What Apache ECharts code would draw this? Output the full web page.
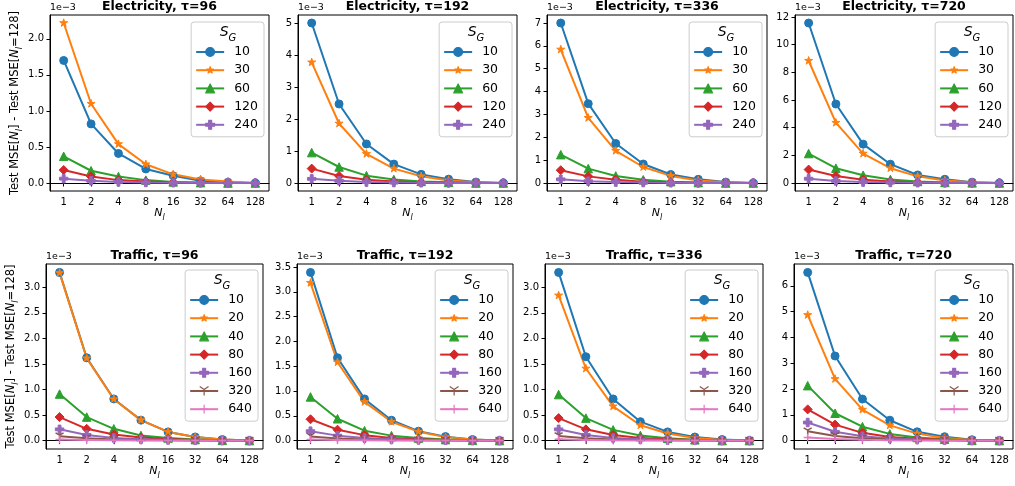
<!DOCTYPE html>
<html>
<head>
<meta charset="utf-8">
<script src="https://cdn.jsdelivr.net/npm/echarts@6/dist/echarts.min.js"></script>
<style>
html, body { margin: 0; padding: 0; background: #fff; }
#main { width: 1015px; height: 486px; }
</style>
</head>
<body>
<div id="main"></div>
<script>
// N_l values on the x axis
var xLabels = ['1', '2', '4', '8', '16', '32', '64', '128'];
var elecGroups = ['10', '30', '60', '120', '240'];
var trafGroups = ['10', '20', '40', '80', '160', '320', '640'];

// all values below are in units of 1e-3
var elec96 = [
  [1.70, 0.82, 0.41, 0.195, 0.10, 0.03, 0.01, 0],
  [2.22, 1.10, 0.54, 0.26, 0.12, 0.05, 0.02, 0],
  [0.37, 0.17, 0.09, 0.04, 0.015, 0.005, 0, 0],
  [0.18, 0.09, 0.04, 0.02, 0.01, 0.005, 0, 0],
  [0.06, 0.03, 0.015, 0.008, 0.004, 0.002, 0.001, 0]
];
var elec192 = [
  [5.00, 2.47, 1.22, 0.59, 0.27, 0.12, 0.03, 0],
  [3.77, 1.86, 0.91, 0.45, 0.21, 0.08, 0.02, 0],
  [0.95, 0.50, 0.23, 0.11, 0.05, 0.02, 0, 0],
  [0.45, 0.22, 0.10, 0.05, 0.02, 0.01, 0, 0],
  [0.13, 0.07, 0.03, 0.015, 0.007, 0.003, 0.001, 0]
];
var elec336 = [
  [7.00, 3.47, 1.73, 0.83, 0.37, 0.16, 0.04, 0],
  [5.84, 2.85, 1.41, 0.70, 0.31, 0.11, 0.03, 0],
  [1.24, 0.63, 0.31, 0.14, 0.06, 0.02, 0, 0],
  [0.56, 0.29, 0.14, 0.06, 0.03, 0.01, 0, 0],
  [0.16, 0.08, 0.04, 0.02, 0.01, 0.005, 0, 0]
];
var elec720 = [
  [11.57, 5.71, 2.81, 1.36, 0.58, 0.27, 0.06, 0],
  [8.84, 4.36, 2.13, 1.07, 0.48, 0.18, 0.05, 0],
  [2.13, 1.07, 0.56, 0.25, 0.11, 0.04, 0.01, 0],
  [0.97, 0.51, 0.24, 0.11, 0.05, 0.02, 0, 0],
  [0.31, 0.15, 0.07, 0.04, 0.02, 0.01, 0, 0]
];
var traf96 = [
  [3.29, 1.62, 0.815, 0.40, 0.17, 0.07, 0.02, 0],
  [3.28, 1.61, 0.81, 0.40, 0.17, 0.07, 0.02, 0],
  [0.91, 0.46, 0.23, 0.10, 0.05, 0.02, 0.005, 0],
  [0.46, 0.23, 0.12, 0.06, 0.03, 0.01, 0, 0],
  [0.22, 0.11, 0.05, 0.025, 0.012, 0.005, 0, 0],
  [0.085, 0.045, 0.02, 0.01, 0.005, 0, 0, 0],
  [0.02, 0.01, 0.005, 0, 0, 0, 0, 0]
];
var traf192 = [
  [3.39, 1.67, 0.84, 0.41, 0.19, 0.08, 0.02, 0],
  [3.18, 1.58, 0.78, 0.38, 0.18, 0.07, 0.02, 0],
  [0.88, 0.44, 0.20, 0.10, 0.05, 0.02, 0.005, 0],
  [0.43, 0.22, 0.11, 0.05, 0.025, 0.01, 0, 0],
  [0.19, 0.10, 0.05, 0.025, 0.012, 0.005, 0, 0],
  [0.08, 0.04, 0.02, 0.01, 0.005, 0, 0, 0],
  [0.02, 0.01, 0.005, 0, 0, 0, 0, 0]
];
var traf336 = [
  [3.29, 1.64, 0.815, 0.37, 0.17, 0.07, 0.02, 0],
  [2.84, 1.41, 0.67, 0.30, 0.14, 0.05, 0.01, 0],
  [0.90, 0.44, 0.21, 0.10, 0.045, 0.015, 0, 0],
  [0.44, 0.22, 0.11, 0.05, 0.025, 0.01, 0, 0],
  [0.22, 0.11, 0.05, 0.025, 0.01, 0.005, 0, 0],
  [0.09, 0.045, 0.02, 0.01, 0.005, 0, 0, 0],
  [0.025, 0.012, 0.006, 0.003, 0, 0, 0, 0]
];
var traf720 = [
  [6.52, 3.28, 1.61, 0.79, 0.34, 0.15, 0.03, 0],
  [4.87, 2.39, 1.20, 0.59, 0.27, 0.10, 0.02, 0],
  [2.13, 1.06, 0.54, 0.26, 0.12, 0.05, 0.01, 0],
  [1.21, 0.62, 0.30, 0.14, 0.07, 0.03, 0, 0],
  [0.70, 0.34, 0.17, 0.08, 0.04, 0.015, 0, 0],
  [0.36, 0.18, 0.09, 0.04, 0.02, 0.01, 0, 0],
  [0.12, 0.06, 0.03, 0.015, 0.007, 0.003, 0, 0]
];

// y tick labels per panel
var elec96Ticks = [0, 0.5, 1, 1.5, 2];
var elec192Ticks = [0, 1, 2, 3, 4, 5];
var elec336Ticks = [0, 1, 2, 3, 4, 5, 6, 7];
var elec720Ticks = [0, 2, 4, 6, 8, 10, 12];
var traf96Ticks = [0, 0.5, 1, 1.5, 2, 2.5, 3];
var traf192Ticks = [0, 0.5, 1, 1.5, 2, 2.5, 3, 3.5];
var traf336Ticks = [0, 0.5, 1, 1.5, 2, 2.5, 3];
var traf720Ticks = [0, 1, 2, 3, 4, 5, 6];

var colors = ['#1f77b4', '#ff7f0e', '#2ca02c', '#d62728', '#9467bd', '#8c564b', '#e377c2'];
// the star carries invisible move-to points so it draws smaller than its box, like matplotlib's '*'
var markers = [
  {symbol: 'circle', size: 8, stroke: false},
  {symbol: 'path://M-1.25,-1.25 M1.25,1.25 M0,-1 L0.2245,-0.309 L0.951,-0.309 L0.363,0.118 L0.588,0.809 L0,0.382 L-0.588,0.809 L-0.363,0.118 L-0.951,-0.309 L-0.2245,-0.309 Z', size: 10.5, stroke: false},
  {symbol: 'triangle', size: 8.5, stroke: false},
  {symbol: 'path://M0,-1 L1,0 L0,1 L-1,0 Z', size: 9, stroke: false},
  {symbol: 'path://M-1,-3 L1,-3 L1,-1 L3,-1 L3,1 L1,1 L1,3 L-1,3 L-1,1 L-3,1 L-3,-1 L-1,-1 Z', size: 8.5, stroke: false},
  {symbol: 'path://M0,0 L0,1 M0,0 L-0.866,-0.5 M0,0 L0.866,-0.5', size: 8, stroke: true},
  {symbol: 'path://M-1,0 L1,0 M0,-1 L0,1', size: 8, stroke: true}
];

var panels = [
  {key: 'e96', title: 'Electricity, τ=96', groups: elecGroups, data: elec96, ticks: elec96Ticks},
  {key: 'e192', title: 'Electricity, τ=192', groups: elecGroups, data: elec192, ticks: elec192Ticks},
  {key: 'e336', title: 'Electricity, τ=336', groups: elecGroups, data: elec336, ticks: elec336Ticks},
  {key: 'e720', title: 'Electricity, τ=720', groups: elecGroups, data: elec720, ticks: elec720Ticks},
  {key: 't96', title: 'Traffic, τ=96', groups: trafGroups, data: traf96, ticks: traf96Ticks},
  {key: 't192', title: 'Traffic, τ=192', groups: trafGroups, data: traf192, ticks: traf192Ticks},
  {key: 't336', title: 'Traffic, τ=336', groups: trafGroups, data: traf336, ticks: traf336Ticks},
  {key: 't720', title: 'Traffic, τ=720', groups: trafGroups, data: traf720, ticks: traf720Ticks}
];

// axes boxes: [left, top, right, bottom] in pixels
var boxes = [
  [50, 15, 269, 191], [298, 15, 517, 191], [547, 15, 767, 191], [795, 15, 1013, 191],
  [46, 264, 263, 449], [297, 264, 513, 449], [545, 264, 763, 449], [794, 264, 1013, 449]
];

var W = 1015;
var FONT = 'DejaVu Sans';

var yNameRich = {
  t: {fontSize: 11.5, fontFamily: FONT, color: '#000', padding: [0, 0, 3, 0], verticalAlign: 'bottom'},
  n: {fontSize: 11.5, fontFamily: FONT, fontStyle: 'italic', color: '#000', padding: [0, 0, 3, 0], verticalAlign: 'bottom'},
  l: {fontSize: 8, fontFamily: FONT, fontStyle: 'italic', color: '#000', verticalAlign: 'bottom'}
};
var yNameText = '{t|Test MSE[}{n|N}{l|l}{t|] - Test MSE[}{n|N}{l|l}{t|=128]}';

var grids = [], xAxes = [], yAxes = [], series = [], legends = [], titles = [];

panels.forEach(function(p, pi) {
  var b = boxes[pi];
  grids.push({
    left: b[0], top: b[1], width: b[2] - b[0], height: b[3] - b[1],
    show: true, borderColor: '#000', borderWidth: 1, backgroundColor: 'transparent',
    containLabel: false, outerBoundsMode: 'none'
  });

  xAxes.push({
    type: 'category', gridIndex: pi, data: xLabels, boundaryGap: true,
    axisLine: {show: true, lineStyle: {color: '#000', width: 1}},
    axisTick: {show: true, alignWithLabel: true, length: 3.5, lineStyle: {color: '#000'}},
    axisLabel: {fontSize: 10, color: '#000', fontFamily: FONT, margin: 6, interval: 0},
    splitLine: {show: false},
    name: '{n|N}{l|l}', nameLocation: 'middle', nameGap: 17,
    nameTextStyle: {
      rich: {
        n: {fontSize: 11, fontFamily: FONT, fontStyle: 'italic', color: '#000', padding: [0, 0, 3, 0], verticalAlign: 'bottom'},
        l: {fontSize: 8, fontFamily: FONT, fontStyle: 'italic', color: '#000', verticalAlign: 'bottom'}
      }
    }
  });

  var lo = Infinity, hi = -Infinity;
  p.data.forEach(function(row) {
    row.forEach(function(v) { lo = Math.min(lo, v); hi = Math.max(hi, v); });
  });
  var pad = (hi - lo) * 0.05;
  var dec = p.ticks.some(function(t) { return t % 1 !== 0; }) ? 1 : 0;

  var yAx = {
    type: 'value', gridIndex: pi, min: lo - pad, max: hi + pad,
    axisLine: {show: true, lineStyle: {color: '#000', width: 1}},
    axisTick: {show: true, length: 3.5, lineStyle: {color: '#000'}, customValues: p.ticks},
    axisLabel: {
      fontSize: 10, color: '#000', fontFamily: FONT, margin: 6, customValues: p.ticks,
      formatter: function(v) { return Number(v).toFixed(dec); }
    },
    splitLine: {show: false}
  };
  if (pi === 0 || pi === 4) {
    yAx.name = yNameText;
    yAx.nameLocation = 'middle';
    yAx.nameGap = 23;
    yAx.nameTextStyle = {rich: yNameRich};
  }
  yAxes.push(yAx);

  var names = [];
  p.groups.forEach(function(g, gi) {
    var m = markers[gi];
    var nm = p.key + ':' + g;
    names.push(nm);
    series.push({
      type: 'line', name: nm, xAxisIndex: pi, yAxisIndex: pi,
      data: p.data[gi],
      symbol: m.symbol, symbolSize: m.size, symbolKeepAspect: true, showAllSymbol: true,
      lineStyle: {color: colors[gi], width: 2},
      itemStyle: m.stroke
        ? {color: 'transparent', borderColor: colors[gi], borderWidth: 1.5}
        : {color: colors[gi], borderColor: colors[gi], borderWidth: 1, borderJoin: 'round'},
      emphasis: {disabled: true},
      silent: true, animation: false
    });
  });

  var inTop = pi < 4 ? 7 : 6;
  legends.push({
    data: names, orient: 'vertical', right: W - b[2] + 5, top: b[1] + inTop,
    formatter: function(n) { return n.split(':')[1]; },
    selectedMode: false,
    itemWidth: 28, itemHeight: 11, itemGap: 4.2,
    itemStyle: {borderWidth: 1.2, borderJoin: 'round'},
    padding: [23, 6, 5, 4],
    backgroundColor: 'rgba(255,255,255,0.8)', borderColor: '#cccccc', borderWidth: 1, borderRadius: 3,
    textStyle: {fontSize: 12.5, fontFamily: FONT, color: '#000', lineHeight: 14, padding: [0, 0, 0, 5]}
  });

  var cx = (b[0] + b[2]) / 2;
  titles.push({
    text: p.title, left: cx, top: b[1] - 15, textAlign: 'center', padding: 0,
    textStyle: {fontSize: 12.5, fontWeight: 'bold', fontFamily: FONT, color: '#000'}
  });
  titles.push({
    text: '1e\u22123', left: b[0], top: b[1] - 12, padding: 0,
    textStyle: {fontSize: 9.5, fontFamily: FONT, color: '#000', fontWeight: 'normal'}
  });
  titles.push({
    text: '{s|S}{g|G}', left: b[2] - 41, top: b[1] + inTop + 3, textAlign: 'center', padding: 0,
    textStyle: {
      fontWeight: 'normal',
      rich: {
        s: {fontSize: 14, fontFamily: FONT, fontStyle: 'italic', fontWeight: 'normal', color: '#000', padding: [0, 0, 4, 0], verticalAlign: 'bottom'},
        g: {fontSize: 10, fontFamily: FONT, fontStyle: 'italic', fontWeight: 'normal', color: '#000', verticalAlign: 'bottom'}
      }
    }
  });
});

var chart = echarts.init(document.getElementById('main'), null, {renderer: 'canvas'});
chart.setOption({
  animation: false,
  backgroundColor: '#fff',
  textStyle: {fontFamily: FONT},
  title: titles,
  grid: grids,
  xAxis: xAxes,
  yAxis: yAxes,
  legend: legends,
  series: series
});
</script>
</body>
</html>
